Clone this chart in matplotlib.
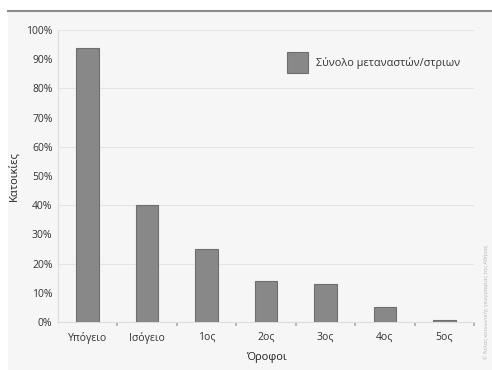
import matplotlib
matplotlib.use("Agg")
import matplotlib.pyplot as plt
from matplotlib.patches import Rectangle
import numpy as np

plt.rcParams['font.family'] = ['Open Sans', 'DejaVu Sans']

floors = ['Υπόγειο', 'Ισόγειο', '1ος', '2ος', '3ος', '4ος', '5ος']
share = [94, 40, 25, 14, 13, 5, 0.6]
yticks = [0, 10, 20, 30, 40, 50, 60, 70, 80, 90, 100]

W, H = 492, 370
fig = plt.figure(figsize=(W / 100, H / 100), dpi=100)
fig.patch.set_facecolor('white')

# grey panel and top rule
fig.patches.append(Rectangle((8 / W, 0), 1 - 8 / W, 1 - 11 / H, transform=fig.transFigure,
                             facecolor='#f6f6f6', edgecolor='none', zorder=-5))
fig.add_artist(plt.Line2D([8 / W, 1], [1 - 11 / H, 1 - 11 / H], transform=fig.transFigure,
                          color='#8a8a8a', lw=1.5, zorder=-4))

ax = fig.add_axes([58 / W, 1 - 322 / H, (474 - 58) / W, (322 - 30) / H])
ax.set_facecolor('none')

x = np.arange(len(floors))
ax.bar(x, share, width=0.38, color='#888888', edgecolor='#6e6e6e', lw=0.8, zorder=3,
       label='Σύνολο μεταναστών/στριων')

ax.set_xlim(-0.5, len(floors) - 0.5)
ax.set_ylim(0, 100)
ax.set_yticks(yticks)
ax.set_yticklabels([f'{v}%' for v in yticks], fontsize=7.5, color='#333333')
ax.set_xticks(x)
ax.set_xticklabels(floors, fontsize=7.5, color='#333333')
ax.tick_params(axis='x', length=0, pad=7)
ax.tick_params(axis='y', length=0, pad=4)
ax.set_xticks(np.arange(len(floors)) + 0.5, minor=True)
ax.tick_params(axis='x', which='minor', length=3, width=1.2, color='#aaaaaa', direction='out')

for v in [20, 40, 60, 80, 100]:
    ax.axhline(v, color='#e4e4e4', lw=0.8, zorder=1)

for s in ['top', 'right']:
    ax.spines[s].set_visible(False)
ax.spines['left'].set_color('#dddddd')
ax.spines['bottom'].set_color('#dddddd')

ax.set_ylabel('Κατοικίες', fontsize=8, color='#222222', labelpad=5)
ax.set_xlabel('Όροφοι', fontsize=8, color='#222222', labelpad=6)

leg = ax.legend(loc='upper left', bbox_to_anchor=(225 / 416, 0.938), frameon=False, fontsize=7.8,
                handlelength=1.9, handleheight=2.6, handletextpad=0.7, borderaxespad=0)
for t in leg.get_texts():
    t.set_color('#333333')

fig.text(486 / W, 1 - 302 / H, '© Άτλας κοινωνικής γεωγραφίας της Αθήνας', rotation=90,
         fontsize=4, color='#b5b5b5', ha='center', va='center')

fig.savefig('out.png', dpi=100)
